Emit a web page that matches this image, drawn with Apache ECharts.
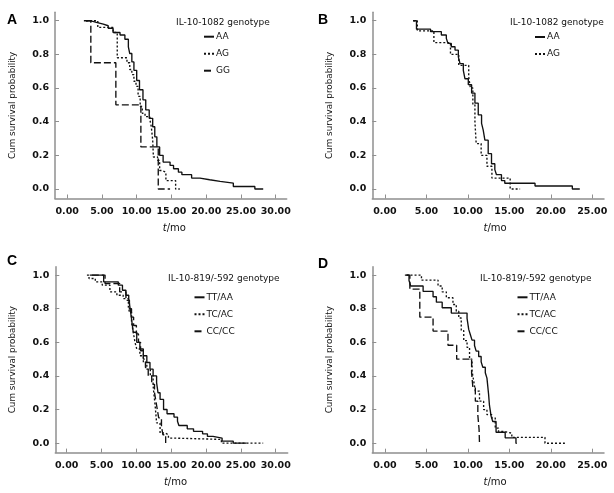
<!DOCTYPE html>
<html><head><meta charset="utf-8">
<script src="https://cdn.jsdelivr.net/npm/echarts@6/dist/echarts.min.js"></script>
<style>html,body{margin:0;padding:0;background:#fff}#c{width:614px;height:493px}</style>
</head><body><div id="c"></div>
<script>
// ---- tick values ----
const xTicks30 = [0, 5, 10, 15, 20, 25, 30];
const xTicks25 = [0, 5, 10, 15, 20, 25];
const yTicks = [0, 0.2, 0.4, 0.6, 0.8, 1.0];

// ---- legend headings / names ----
const headA = 'IL-10-1082 genotype';
const headC = 'IL-10-819/-592 genotype';
const namesA = ['AA', 'AG', 'GG'];
const namesB = ['AA', 'AG'];
const namesC = ['TT/AA', 'TC/AC', 'CC/CC'];

// ---- Panel A: [time (mo), cumulative survival] ----
const A_AA = [[2.4,1],[3.3,0.99],[4.2,0.98],[5.2,0.97],[5.9,0.955],[6.6,0.93],[7.6,0.915],[8.3,0.89],[8.8,0.845],[9.0,0.805],[9.3,0.755],[9.6,0.705],[10.0,0.645],[10.4,0.59],[10.9,0.53],[11.3,0.47],[11.8,0.42],[12.3,0.37],[12.6,0.31],[12.9,0.25],[13.3,0.2],[13.8,0.16],[14.8,0.14],[15.3,0.12],[16.0,0.1],[16.5,0.085],[17.9,0.065],[19.1,0.055],[20.5,0.045],[22.0,0.035],[23.9,0.015],[27.0,0],[28.2,0]];
const A_AG = [[2.7,1],[4.4,0.96],[6.6,0.93],[7.2,0.78],[8.6,0.75],[9.0,0.71],[9.3,0.68],[9.6,0.64],[9.9,0.61],[10.2,0.55],[10.5,0.49],[10.8,0.45],[11.2,0.43],[11.9,0.41],[12.1,0.37],[12.3,0.29],[12.4,0.19],[13.0,0.17],[13.3,0.11],[13.6,0.1],[14.2,0.05],[15.6,0],[16.2,0]];
const A_GG = [[2.7,1],[3.4,0.75],[7.0,0.5],[10.6,0.25],[13.1,0],[14.8,0]];

// ---- Panel B ----
const B_AA = [[3.4,1],[3.8,0.95],[5.5,0.935],[6.8,0.915],[7.4,0.895],[7.6,0.865],[8.0,0.845],[8.45,0.825],[8.85,0.785],[9.05,0.745],[9.45,0.705],[9.65,0.655],[10.05,0.62],[10.45,0.57],[10.85,0.51],[11.25,0.44],[11.65,0.39],[11.85,0.35],[12.05,0.29],[12.45,0.21],[12.85,0.15],[13.25,0.115],[13.45,0.085],[14.05,0.05],[14.45,0.034],[18.1,0.018],[22.6,0],[23.5,0]];
const B_AG = [[3.4,1],[3.9,0.94],[5.9,0.87],[7.9,0.8],[8.9,0.735],[10.1,0.665],[10.3,0.6],[10.6,0.5],[10.85,0.4],[11.0,0.27],[11.6,0.2],[12.3,0.135],[12.9,0.065],[15.1,0],[16.3,0]];

// ---- Panel C ----
const C_TT = [[3.3,1],[5.3,0.96],[7.4,0.94],[8.0,0.91],[8.5,0.88],[8.9,0.86],[9.1,0.8],[9.3,0.74],[9.55,0.66],[10.05,0.6],[10.5,0.56],[11.0,0.52],[11.5,0.48],[11.95,0.44],[12.4,0.4],[12.9,0.36],[13.1,0.3],[13.4,0.26],[13.9,0.2],[14.4,0.175],[15.4,0.155],[15.9,0.13],[16.1,0.105],[17.3,0.085],[18.2,0.07],[19.5,0.055],[20.2,0.04],[21.0,0.03],[22.3,0.012],[23.9,0],[25.8,0]];
const C_TC = [[2.9,1],[3.2,0.98],[4.1,0.96],[5.1,0.94],[6.2,0.9],[7.2,0.88],[8.1,0.86],[8.85,0.81],[9.0,0.78],[9.3,0.72],[9.55,0.66],[9.8,0.6],[10.05,0.56],[10.5,0.52],[11.0,0.48],[11.5,0.44],[12.0,0.4],[12.4,0.34],[12.55,0.28],[12.7,0.22],[12.9,0.12],[13.4,0.06],[14.1,0.05],[14.6,0.03],[15.3,0.022],[22.2,0],[28.2,0]];
const C_CC = [[3.6,1],[5.5,0.95],[7.6,0.9],[8.5,0.85],[9.0,0.8],[9.3,0.75],[9.6,0.7],[10.0,0.65],[10.3,0.6],[10.6,0.55],[11.0,0.5],[11.3,0.45],[11.7,0.4],[12.2,0.35],[12.6,0.3],[12.8,0.25],[13.0,0.2],[13.2,0.15],[13.6,0.1],[13.8,0.05],[14.2,0],[14.3,0]];

// ---- Panel D ----
const D_TT = [[2.4,1],[2.9,0.968],[3.1,0.935],[4.6,0.903],[5.8,0.871],[6.2,0.839],[6.9,0.806],[8.0,0.774],[9.9,0.742],[10.0,0.71],[10.1,0.677],[10.3,0.645],[10.5,0.613],[10.8,0.581],[11.0,0.548],[11.3,0.516],[11.6,0.484],[11.8,0.452],[12.1,0.419],[12.3,0.387],[12.5,0.29],[12.6,0.226],[12.8,0.161],[13.0,0.129],[13.4,0.065],[14.5,0.032],[15.8,0],[15.9,0]];
const D_TC = [[2.6,1],[4.4,0.97],[6.4,0.935],[6.9,0.9],[7.4,0.865],[8.2,0.825],[8.6,0.785],[8.9,0.745],[9.2,0.67],[9.5,0.61],[9.9,0.57],[10.2,0.5],[10.5,0.43],[10.7,0.37],[10.9,0.31],[11.4,0.25],[11.9,0.2],[12.3,0.17],[12.9,0.15],[13.3,0.09],[13.7,0.07],[14.3,0.06],[15.3,0.035],[19.3,0],[21.7,0]];
const D_CC = [[2.6,1],[3.0,0.917],[4.2,0.75],[5.8,0.667],[7.6,0.583],[8.65,0.5],[10.45,0.417],[10.6,0.333],[10.9,0.25],[11.2,0.167],[11.35,0.083],[11.4,0],[11.5,0]];

const FONT = 'DejaVu Sans';
const INK = '#111';
const AXC = '#8f8f8f';

const grids = [
  {left: 55, top: 12.3, width: 231.7, height: 186.2},
  {left: 372.3, top: 12.3, width: 231.7, height: 186.2},
  {left: 55.3, top: 266.7, width: 232.4, height: 185.9},
  {left: 372.3, top: 266.7, width: 231.7, height: 186}
];
const xRanges = [[-1.755, 31.58], [-1.53, 26.42], [-1.64, 31.72], [-1.53, 26.42]];
const xTickSets = [xTicks30, xTicks25, xTicks30, xTicks25];
const nameShift = [7, 14, 8, 14];

const xAxes = grids.map((g, i) => ({
  type: 'value', gridIndex: i, min: xRanges[i][0], max: xRanges[i][1],
  axisLine: {onZero: false, lineStyle: {color: AXC, width: 1.5}},
  axisTick: {inside: true, length: 4, customValues: xTickSets[i], lineStyle: {color: AXC, width: 1}},
  axisLabel: {customValues: xTickSets[i], formatter: v => v.toFixed(2), color: INK, fontFamily: FONT, fontWeight: 'bold', fontSize: 9.5, margin: 8},
  splitLine: {show: false},
  name: '{i|t}/mo', nameLocation: 'middle', nameGap: 25,
  nameTextStyle: {color: INK, fontFamily: FONT, fontSize: 10, padding: [0, 0, 0, nameShift[i]],
    rich: {i: {fontStyle: 'italic', fontFamily: FONT, fontSize: 10, color: INK}}}
}));
const yAxes = grids.map((g, i) => ({
  type: 'value', gridIndex: i, min: -0.0565, max: 1.05,
  axisLine: {onZero: false, lineStyle: {color: AXC, width: 1.5}},
  axisTick: {inside: true, length: 4, customValues: yTicks, lineStyle: {color: AXC, width: 1}},
  axisLabel: {customValues: yTicks, formatter: v => v.toFixed(1), color: INK, fontFamily: FONT, fontWeight: 'bold', fontSize: 9.5, margin: 6},
  splitLine: {show: false},
  name: 'Cum survival probability', nameLocation: 'middle', nameGap: 38,
  nameTextStyle: {color: INK, fontFamily: FONT, fontSize: 8.8}
}));

const SOLID = 'solid', DOT = [2, 2], DASH = [7, 3];
function km(name, data, idx, type) {
  return {type: 'line', name: name, data: data, step: 'end', symbol: 'none',
    xAxisIndex: idx, yAxisIndex: idx, animation: false,
    lineStyle: {color: INK, width: 1.35, type: type},
    itemStyle: {color: 'rgba(0,0,0,0)', borderWidth: 0}};
}
const series = [
  km('AA', A_AA, 0, SOLID), km('AG', A_AG, 0, DOT), km('GG', A_GG, 0, DASH),
  km('AA', B_AA, 1, SOLID), km('AG', B_AG, 1, DOT),
  km('TT/AA', C_TT, 2, SOLID), km('TC/AC', C_TC, 2, DOT), km('CC/CC', C_CC, 2, DASH),
  km('TT/AA', D_TT, 3, SOLID), km('TC/AC', D_TC, 3, DOT), km('CC/CC', D_CC, 3, DASH)
];

const lgBase = {orient: 'vertical', padding: 0, itemWidth: 10, itemHeight: 10, itemGap: 7,
  selectedMode: false,
  itemStyle: {color: 'rgba(0,0,0,0)', borderWidth: 0, opacity: 0},
  textStyle: {color: INK, fontFamily: FONT, fontSize: 9, lineHeight: 10, padding: [0, 0, 0, -3]}};
const legends = [
  Object.assign({}, lgBase, {data: namesA, left: 203, top: 31.7}),
  Object.assign({}, lgBase, {data: namesB, left: 534, top: 32}),
  Object.assign({}, lgBase, {data: namesC, left: 193.5, top: 292.3}),
  Object.assign({}, lgBase, {data: namesC, left: 516.5, top: 292.3})
];

const letter = (t, l, tp) => ({text: t, left: l, top: tp, padding: 0,
  textStyle: {fontFamily: 'Liberation Sans', fontWeight: 'bold', fontSize: 14, color: '#000'}});
const head = (t, l, tp) => ({text: t, left: l, top: tp, padding: 0,
  textStyle: {fontFamily: FONT, fontWeight: 'normal', fontSize: 9, color: INK}});
const titles = [
  letter('A', 7, 13), letter('B', 318, 13), letter('C', 7, 254), letter('D', 318, 257),
  head(headA, 176, 18.5), head(headA, 510, 18.5), head(headC, 168, 273.8), head(headC, 480, 273.8)
];

const chart = echarts.init(document.getElementById('c'), null, {renderer: 'canvas'});
chart.setOption({
  animation: false,
  backgroundColor: '#fff',
  title: titles,
  legend: legends,
  grid: grids,
  xAxis: xAxes,
  yAxis: yAxes,
  series: series
});
</script>
</body></html>
